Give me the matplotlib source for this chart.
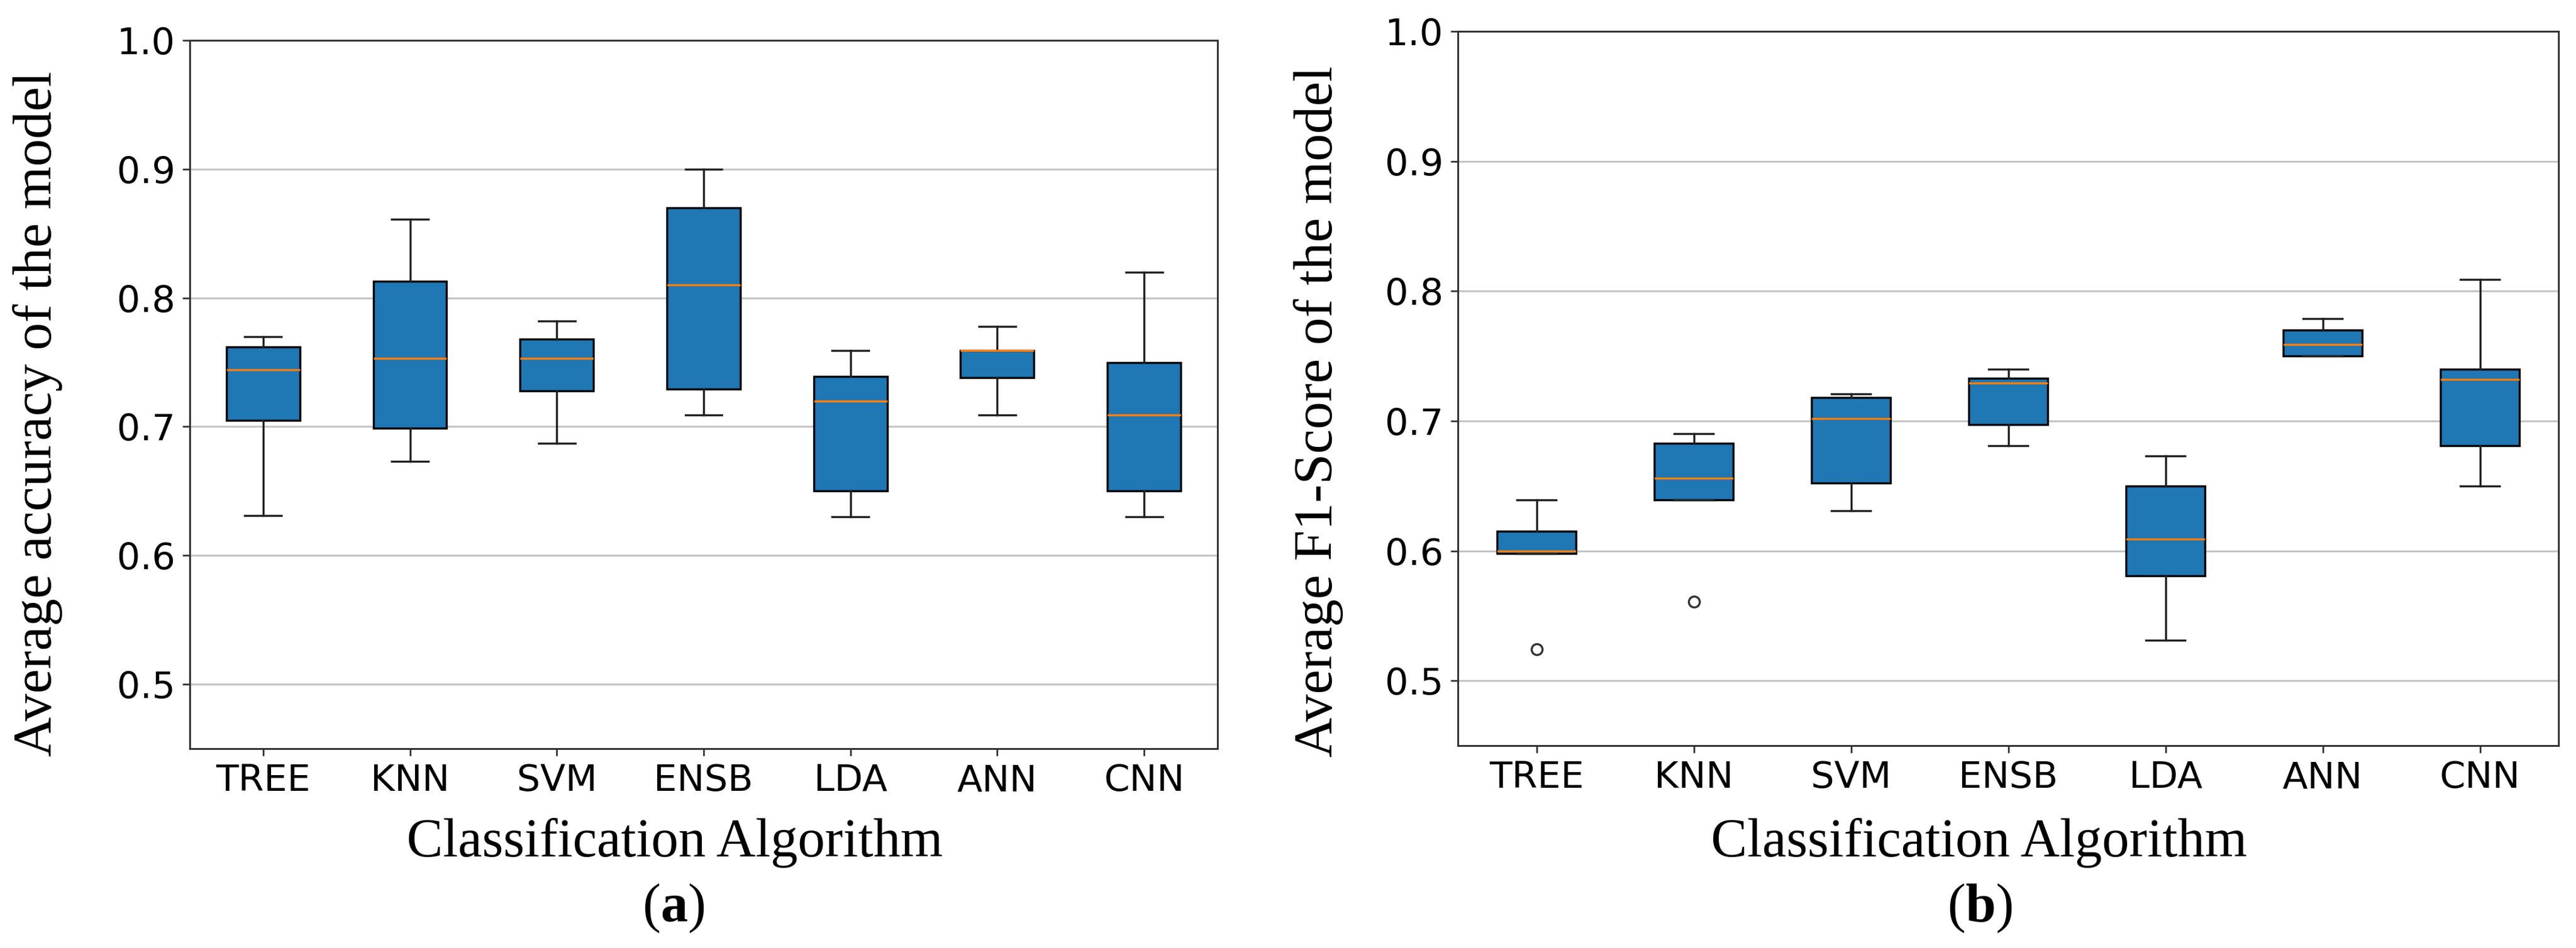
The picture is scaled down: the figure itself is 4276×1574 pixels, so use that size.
import numpy as np
import matplotlib
matplotlib.use("Agg")
import matplotlib.pyplot as plt

plt.rcParams['font.family'] = "DejaVu Sans"
plt.rcParams['mathtext.fontset'] = "custom"
plt.rcParams['mathtext.rm'] = "Liberation Serif"
plt.rcParams['mathtext.bf'] = "Liberation Serif:bold"

ALGOS = ["TREE", "KNN", "SVM", "ENSB", "LDA", "ANN", "CNN"]

# accuracy (a): five-number summaries
acc_whislo = [0.631, 0.673, 0.687, 0.709, 0.630, 0.709, 0.630]
acc_q1     = [0.705, 0.699, 0.728, 0.729, 0.650, 0.738, 0.650]
acc_med    = [0.744, 0.753, 0.753, 0.810, 0.720, 0.759, 0.709]
acc_q3     = [0.762, 0.813, 0.768, 0.870, 0.739, 0.759, 0.750]
acc_whishi = [0.770, 0.861, 0.782, 0.900, 0.759, 0.778, 0.820]
acc_fliers = [[], [], [], [], [], [], []]

# F1-score (b)
f1_whislo = [0.598, 0.639, 0.631, 0.681, 0.531, 0.750, 0.650]
f1_q1     = [0.598, 0.639, 0.652, 0.697, 0.581, 0.750, 0.681]
f1_med    = [0.600, 0.656, 0.702, 0.729, 0.609, 0.759, 0.732]
f1_q3     = [0.615, 0.683, 0.718, 0.733, 0.650, 0.770, 0.740]
f1_whishi = [0.639, 0.690, 0.721, 0.740, 0.673, 0.779, 0.809]
f1_fliers = [[0.524], [0.561], [], [], [], [], []]

W, H = 4276, 1574
DPI = 100
LW = 2.5
SERIF = "Liberation Serif"


def make_stats(whislo, q1, med, q3, whishi, fliers):
    stats = []
    for i in range(len(ALGOS)):
        stats.append(dict(label=ALGOS[i], whislo=whislo[i], q1=q1[i], med=med[i],
                          q3=q3[i], whishi=whishi[i], fliers=fliers[i]))
    return stats


def draw_panel(ax, stats):
    ax.bxp(stats, patch_artist=True, widths=0.5,
           boxprops=dict(facecolor="#1f77b4", edgecolor="black", linewidth=LW),
           medianprops=dict(color="#ff7f0e", linewidth=LW),
           whiskerprops=dict(color="#222222", linewidth=LW),
           capprops=dict(color="#222222", linewidth=LW),
           flierprops=dict(marker="o", markersize=13, markerfacecolor="none",
                           markeredgecolor="#333333", markeredgewidth=LW))
    ax.set_ylim(0.45, 1.0)
    ax.set_xlim(0.5, 7.5)
    ax.set_yticks([0.5, 0.6, 0.7, 0.8, 0.9, 1.0])
    ax.yaxis.grid(True, color="#c4c4c4", linewidth=2.2)
    ax.set_axisbelow(True)
    ax.tick_params(labelsize=44, length=8.6, width=2, pad=9, color="#333333")
    for s in ax.spines.values():
        s.set_linewidth(2.2)
        s.set_color("#333333")


fig = plt.figure(figsize=(W / DPI, H / DPI), dpi=DPI)

ax1 = fig.add_axes([315 / W, 1 - 1243 / H, 1706 / W, 1176 / H])
draw_panel(ax1, make_stats(acc_whislo, acc_q1, acc_med, acc_q3, acc_whishi, acc_fliers))

ax2 = fig.add_axes([2420 / W, 1 - 1238 / H, 1827 / W, 1186 / H])
draw_panel(ax2, make_stats(f1_whislo, f1_q1, f1_med, f1_q3, f1_whishi, f1_fliers))

# labels (serif, as typeset in the paper)
fig.text(63 / W, 1 - 687 / H, "Average accuracy of the model", rotation=90,
         ha="center", va="center", fontsize=66, family=SERIF)
fig.text(2188 / W, 1 - 683 / H, "Average F1-Score of the model", rotation=90,
         ha="center", va="center", fontsize=66, family=SERIF)

fig.text(1120 / W, 1 - 1422 / H, "Classification Algorithm", ha="center",
         va="baseline", fontsize=65, family=SERIF)
fig.text(3285 / W, 1 - 1422 / H, "Classification Algorithm", ha="center",
         va="baseline", fontsize=65, family=SERIF)

fig.text(1118 / W, 1 - 1530 / H, r"($\mathbf{a}$)", ha="center", va="baseline",
         fontsize=65, family=SERIF)
fig.text(3286 / W, 1 - 1530 / H, r"($\mathbf{b}$)", ha="center", va="baseline",
         fontsize=65, family=SERIF)

fig.savefig("out.png", dpi=DPI, facecolor="white")
